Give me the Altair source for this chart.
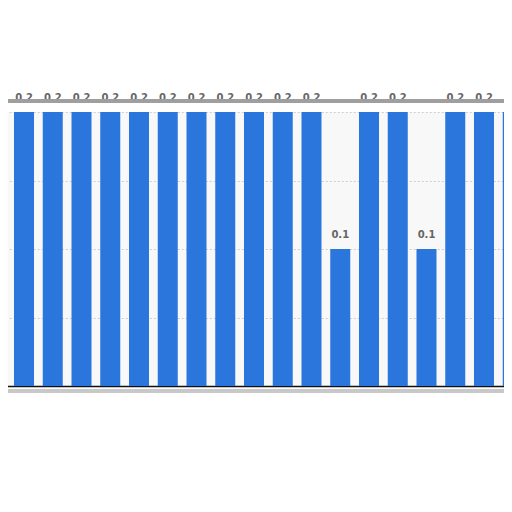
import altair as alt
import pandas as pd

categories = [str(i) for i in range(1, 20)]
values = [0.2, 0.2, 0.2, 0.2, 0.2, 0.2, 0.2, 0.2, 0.2, 0.2, 0.2, 0.2, 0.1, 0.2, 0.2, 0.1, 0.2, 0.2, 0.2]
labels = ["0.2" if v == 0.2 else "0.1" for v in values]

df = pd.DataFrame({"cat": categories, "value": values, "label": labels})

W = 496
H = 274

xscale = alt.Scale(domain=categories, range=[-22.75, 514.75], paddingInner=0.304, paddingOuter=0)
yscale = alt.Scale(domain=[0, 0.2], nice=False)

base = alt.Chart(df)

bars = base.mark_bar(color="#2a76dd", clip=True).encode(
    x=alt.X("cat:N", scale=xscale, sort=None,
            axis=alt.Axis(labels=False, ticks=False, title=None, domain=True,
                          domainColor="#111111", domainWidth=1.5, grid=False)),
    y=alt.Y("value:Q", scale=yscale,
            axis=alt.Axis(labels=False, ticks=False, title=None, domain=False,
                          values=[0, 0.05, 0.1, 0.15, 0.2], grid=True,
                          gridColor="#cfcfcf", gridDash=[2, 2], gridWidth=1)),
)

text = base.mark_text(baseline="middle", dy=-14, font="DejaVu Sans", fontWeight="bold",
                      fontSize=10, color="#666666", clip=False).encode(
    x=alt.X("cat:N", scale=xscale, sort=None),
    y=alt.Y("value:Q", scale=yscale),
    text="label:N",
)

tear = base.mark_rule(color="#a0a0a0", strokeWidth=4, opacity=0.3).encode(
    x=alt.value(0), x2=alt.value(W), y=alt.value(-11)
)

shadow = base.mark_rule(color="#c8c8c8", strokeWidth=3, opacity=0.5).encode(
    x=alt.value(0), x2=alt.value(W), y=alt.value(H + 5)
)

chart = alt.layer(bars, text, tear, shadow).properties(
    width=W, height=H,
    autosize=alt.AutoSizeParams(type="none"),
    padding={"left": 0, "top": 104, "right": 0, "bottom": 30},
    background="white",
).configure_view(stroke=None, fill="#f8f8f8")

chart.save("out.html", embed_options={"renderer": "svg", "actions": False})
